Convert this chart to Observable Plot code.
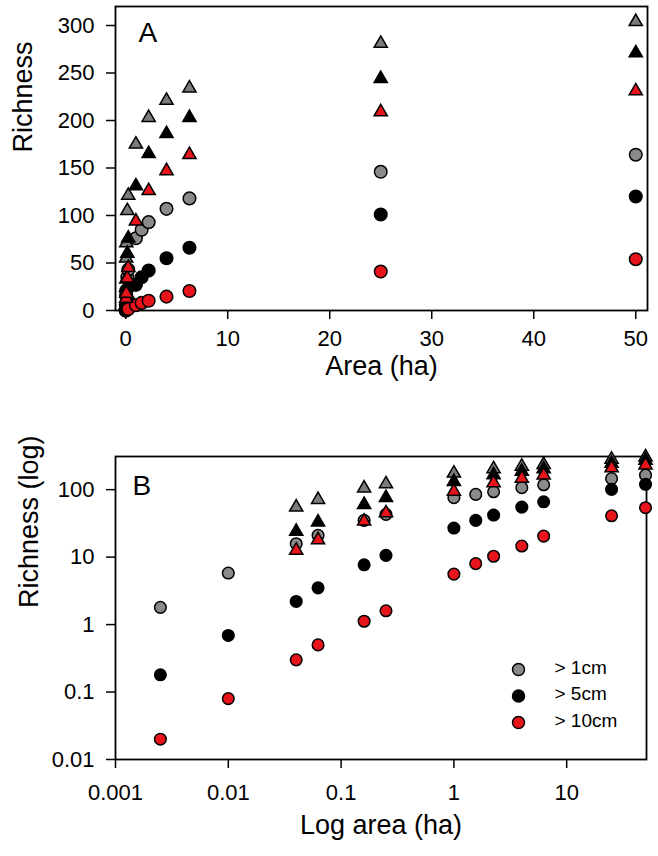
<!DOCTYPE html>
<html><head><meta charset="utf-8">
<script src="https://cdn.jsdelivr.net/npm/d3@7"></script>
<script src="https://cdn.jsdelivr.net/npm/@observablehq/plot@0.6"></script>
<style>
body{margin:0;background:#fff;}
#chart{width:658px;height:856px;position:relative;}
#chart svg{display:block;overflow:visible;}
</style>
</head><body><div id="chart"></div>
<script>
// ---- data ----
const sizeClasses = ["> 1cm", "> 5cm", "> 10cm"];
const circleAreas = [0.0025, 0.01, 0.04, 0.0625, 0.16, 0.25, 1, 1.5625, 2.25, 4, 6.25, 25, 50];
const circle1cm  = [1.8, 5.8, 15.8, 21, 35, 43, 76, 85, 93, 107, 118, 146, 164];
const circle5cm  = [0.18, 0.69, 2.2, 3.5, 7.7, 10.6, 27, 35, 42, 55, 66, 101, 120];
const circle10cm = [0.02, 0.08, 0.30, 0.50, 1.12, 1.6, 5.6, 8.0, 10.3, 14.6, 20.5, 41, 54];
const triangleAreas = [0.04, 0.0625, 0.16, 0.25, 1, 2.25, 4, 6.25, 25, 50];
const tri1cm  = [55, 71, 105, 121, 175, 203, 221, 234, 281, 304];
const tri5cm  = [24, 33, 60, 76, 131, 165, 186, 203, 244, 271];
const tri10cm = [12.6, 18, 34, 45, 94, 126, 147, 164, 209, 231];
const linTicksY = [0, 50, 100, 150, 200, 250, 300];
const linTicksX = [0, 10, 20, 30, 40, 50];
const logTicksY = [0.01, 0.1, 1, 10, 100];
const logTicksX = [0.001, 0.01, 0.1, 1, 10];

// ---- tables ----
const circleSeries = [circle1cm, circle5cm, circle10cm];
const triSeries = [tri1cm, tri5cm, tri10cm];
const circles = sizeClasses.map((cls, k) => circleAreas.map((a, i) => ({area: a, richness: circleSeries[k][i], cls})));
const triangles = sizeClasses.map((cls, k) => triangleAreas.map((a, i) => ({area: a, richness: triSeries[k][i], cls})));

const circleFill = ["#8a8a8a", "#000000", "#e8141c"];
const triFill = ["#7c7c7c", "#000000", "#e8141c"];
const FONT = "'Liberation Sans', Arial, Helvetica, sans-serif";

function pointMarks(rc, rt) {
  const m = [];
  circles.forEach((data, k) => m.push(Plot.dot(data, {x: "area", y: "richness", r: rc, symbol: "circle", fill: circleFill[k], stroke: "black", strokeWidth: 1.5})));
  triangles.forEach((data, k) => m.push(Plot.dot(data, {x: "area", y: "richness", r: rt, symbol: "triangle", fill: triFill[k], stroke: "black", strokeWidth: 1.5})));
  return m;
}

const axisStyle = {tickSize: 9, tickPadding: 12, fontSize: 22, strokeWidth: 1.5, label: null};

// ---- panel A ----
const plotA = Plot.plot({
  width: 658, height: 400,
  marginLeft: 115, marginRight: 11, marginTop: 6, marginBottom: 90,
  style: {fontFamily: FONT, color: "black", background: "white", overflow: "visible"},
  x: {domain: [-1, 51.15]},
  y: {domain: [0, 320]},
  marks: [
    Plot.axisY({...axisStyle, ticks: linTicksY, tickFormat: d => String(d)}),
    Plot.axisX({...axisStyle, ticks: linTicksX, tickFormat: d => String(d), tickPadding: 11}),
    Plot.frame({stroke: "black", strokeWidth: 1.8}),
    ...pointMarks(6.3, 4.9),
    Plot.text(["A"], {frameAnchor: "top-left", dx: 23, dy: 16, fontSize: 28, textAnchor: "start", lineAnchor: "top"}),
    Plot.text(["Richness"], {frameAnchor: "left", rotate: -90, dx: -92, dy: -6, fontSize: 27}),
    Plot.text(["Area (ha)"], {frameAnchor: "bottom", dy: 64, fontSize: 27})
  ]
});

// ---- panel B ----
const legendMarks = sizeClasses.flatMap((cls, k) => [
  Plot.dot([cls], {frameAnchor: "bottom-right", dx: -128, dy: -90 + 26.5 * k, r: 6, fill: circleFill[k], stroke: "black", strokeWidth: 1.5}),
  Plot.text([cls], {frameAnchor: "bottom-right", dx: -92, dy: -86 + 26.5 * k, fontSize: 19, textAnchor: "start"})
]);

const plotB = Plot.plot({
  width: 658, height: 456,
  marginLeft: 115, marginRight: 12, marginTop: 56, marginBottom: 97,
  style: {fontFamily: FONT, color: "black", background: "white", overflow: "visible"},
  x: {type: "log", domain: [0.001, 51]},
  y: {type: "log", domain: [0.01, 310]},
  marks: [
    Plot.axisY({...axisStyle, ticks: logTicksY, tickFormat: d => String(d)}),
    Plot.axisX({...axisStyle, ticks: logTicksX, tickFormat: d => String(d), tickPadding: 16}),
    Plot.frame({stroke: "black", strokeWidth: 1.8}),
    ...pointMarks(5.8, 4.9),
    ...legendMarks,
    Plot.text(["B"], {frameAnchor: "top-left", dx: 17, dy: 19, fontSize: 28, textAnchor: "start", lineAnchor: "top"}),
    Plot.text(["Richness (log)"], {frameAnchor: "left", rotate: -90, dx: -86, fontSize: 27}),
    Plot.text(["Log area (ha)"], {frameAnchor: "bottom", dy: 74, fontSize: 27})
  ]
});

const el = document.getElementById("chart");
el.appendChild(plotA);
el.appendChild(plotB);
</script>
</body></html>
